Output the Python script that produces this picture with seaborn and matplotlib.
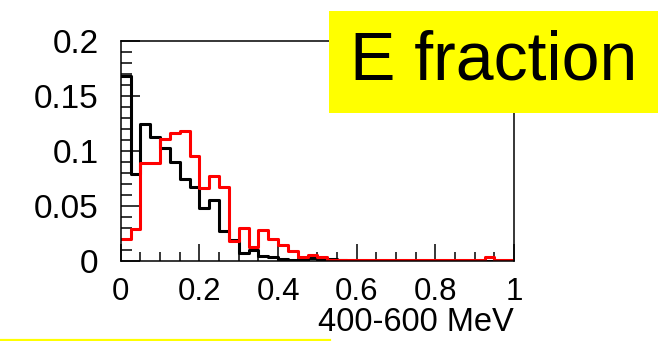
import numpy as np
import pandas as pd
import matplotlib
matplotlib.use("Agg")
import matplotlib.pyplot as plt
import seaborn as sns
from matplotlib.patches import Rectangle
from matplotlib.lines import Line2D
from matplotlib.ticker import MultipleLocator

# 40 bins of width 0.025 over [0, 1]
bin_edges = [round(i * 0.025, 4) for i in range(41)]

black_values = [0.168, 0.079, 0.124, 0.113, 0.103, 0.0895, 0.074, 0.067, 0.048, 0.055,
                0.027, 0.019, 0.0067, 0.0097, 0.0043, 0.0036, 0.002, 0.001, 0.001, 0.0025,
                0.002, 0.002, 0.0005, 0.0, 0.0, 0.0, 0.0, 0.0, 0.0, 0.0,
                0.0, 0.0, 0.0, 0.0, 0.0, 0.0, 0.0, 0.0, 0.0, 0.0]
red_values = [0.020, 0.0285, 0.089, 0.089, 0.111, 0.116, 0.118, 0.095, 0.066, 0.077,
              0.067, 0.018, 0.030, 0.0127, 0.028, 0.020, 0.0143, 0.009, 0.003, 0.005,
              0.003, 0.001, 0.001, 0.0008, 0.0008, 0.0008, 0.0008, 0.0008, 0.0008, 0.0008,
              0.0008, 0.0008, 0.0008, 0.0008, 0.0008, 0.0008, 0.0008, 0.003, 0.0008, 0.0008]

x_ticks = [0, 0.2, 0.4, 0.6, 0.8, 1.0]
x_tick_labels = ["0", "0.2", "0.4", "0.6", "0.8", "1"]
y_ticks = [0, 0.05, 0.1, 0.15, 0.2]
y_tick_labels = ["0", "0.05", "0.1", "0.15", "0.2"]
x_label = "400-600 MeV"
title_text = "E fraction"

edges = np.array(bin_edges)
centers = 0.5 * (edges[:-1] + edges[1:])
df_black = pd.DataFrame({"x": centers, "w": black_values})
df_red = pd.DataFrame({"x": centers, "w": red_values})

plt.rcParams["font.family"] = ["Liberation Sans", "DejaVu Sans"]

fig = plt.figure(figsize=(6.58, 3.41), dpi=100)
ax = fig.add_axes([120.7 / 658, 1 - 260.7 / 341, (514 - 120.7) / 658, (260.7 - 41) / 341])

sns.histplot(data=df_black, x="x", weights="w", bins=bin_edges,
             element="step", fill=False, color="black", linewidth=2.2, ax=ax)
sns.histplot(data=df_red, x="x", weights="w", bins=bin_edges,
             element="step", fill=False, color="#ff0000", linewidth=2.2, ax=ax)

ax.set_xlim(0, 1)
ax.set_ylim(0, 0.2)
ax.set_xticks(x_ticks, x_tick_labels)
ax.set_yticks(y_ticks, y_tick_labels)
ax.xaxis.set_minor_locator(MultipleLocator(0.05))
ax.yaxis.set_minor_locator(MultipleLocator(0.01))
ax.tick_params(axis="both", which="both", direction="in", width=1.1, colors="black",
               top=False, right=False)
ax.tick_params(axis="x", which="major", length=12, pad=12, labelsize=22.5)
ax.tick_params(axis="x", which="minor", length=6.5)
ax.tick_params(axis="y", which="major", length=13.5, pad=16, labelsize=24)
ax.tick_params(axis="y", which="minor", length=8)
ax.set_ylabel("")
ax.set_xlabel(x_label, fontsize=23.5, loc="right", labelpad=0)
for s in ax.spines.values():
    s.set_linewidth(1.1)
    s.set_color("black")

# yellow title box
fig.patches.append(Rectangle((329 / 658, 1 - 113 / 341), (658 - 329) / 658, 102 / 341,
                             transform=fig.transFigure, facecolor="#ffff00",
                             edgecolor="none", zorder=5))
fig.text(350 / 658, 1 - 62 / 341, title_text, fontsize=49, ha="left", va="center",
         color="black", zorder=6)
fig.lines.append(Line2D([0, 330 / 658], [1 - 339.5 / 341, 1 - 339.5 / 341],
                        transform=fig.transFigure, color="#ffff00", linewidth=1.6))

fig.savefig("out.png", dpi=100, facecolor="white")
